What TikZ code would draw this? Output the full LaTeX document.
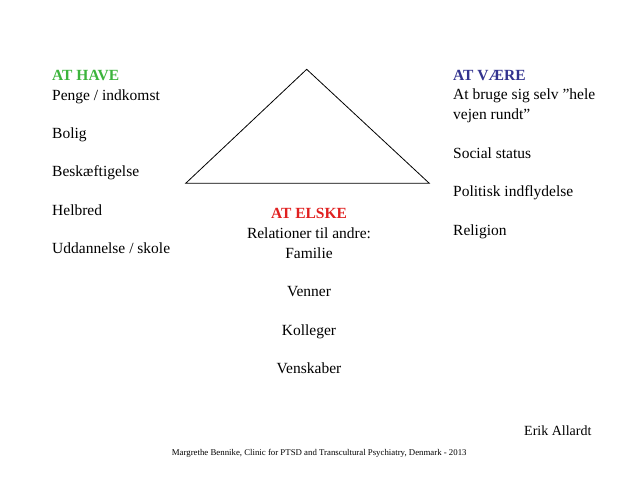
\documentclass[tikz,border=0pt]{standalone}
\usepackage{fontspec}
\setmainfont{Liberation Serif}
\usepackage{xcolor}
\usepackage{tikz}
\definecolor{havecol}{HTML}{3CB43C}
\definecolor{vaerecol}{HTML}{33338F}
\definecolor{elskecol}{HTML}{E02020}

\begin{document}
\begin{tikzpicture}[x=1pt, y=-1pt,
    item/.style={inner sep=0pt, anchor=base west, font=\fontsize{15.5}{19}\selectfont},
    mid/.style={item, anchor=base},
    head/.style={font=\fontsize{15.5}{19}\selectfont\bfseries},
    tri/.style={draw, line width=0.8pt, line join=miter}
  ]
    \useasboundingbox (0,0) rectangle (638,479);

    % triangle
    \coordinate (apex) at (306.7,69.3);
    \coordinate (bl) at (185.7,183.3);
    \coordinate (br) at (429.3,183.3);
    \draw[tri] (apex) -- (bl) -- (br) -- cycle;

    % left: at have
    \node[item, head, text=havecol] (have) at (52,80.7) {AT HAVE};
    \node[item] (penge) at (52,100) {Penge / indkomst};
    \node[item] (bolig) at (52,138.3) {Bolig};
    \node[item] (besk) at (52,176.7) {Beskæftigelse};
    \node[item] (helbred) at (52,215) {Helbred};
    \node[item] (uddan) at (52,253.3) {Uddannelse / skole};

    % right: at vaere
    \node[item, head, text=vaerecol] (vaere) at (453,80.7) {AT VÆRE};
    \node[item] (bruge) at (453,99.6) {At bruge sig selv ”hele};
    \node[item] (vejen) at (453,119.1) {vejen rundt”};
    \node[item] (social) at (453,158.3) {Social status};
    \node[item] (politisk) at (453,196.7) {Politisk indflydelse};
    \node[item] (religion) at (453,235) {Religion};

    % center: at elske
    \node[mid, head, text=elskecol] (elske) at (309,218.3) {AT ELSKE};
    \node[mid] (relation) at (309,238.3) {Relationer til andre:};
    \node[mid] (familie) at (309,258.3) {Familie};
    \node[mid] (venner) at (309,296.7) {Venner};
    \node[mid] (kolleger) at (309,335) {Kolleger};
    \node[mid] (venskab) at (309,373.3) {Venskaber};

    \node[item, font=\fontsize{14}{16}\selectfont] (allardt) at (524,435.7) {Erik Allardt};
    \node[item, font=\fontsize{8.8}{10}\selectfont] (footer) at (171.7,455) {Margrethe Bennike, Clinic for PTSD and Transcultural Psychiatry, Denmark - 2013};
  \end{tikzpicture}
\end{document}
